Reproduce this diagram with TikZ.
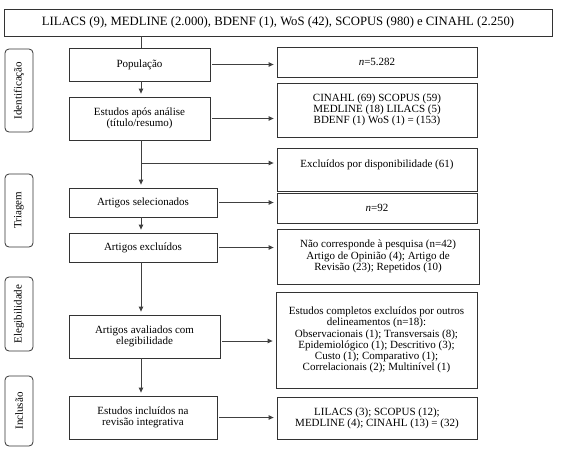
\documentclass[tikz,border=0pt]{standalone}
\usepackage{fontspec}
\setmainfont{Liberation Serif}
\usetikzlibrary{arrows.meta}
\begin{document}
\begin{tikzpicture}[x=1pt,y=-1pt,
  box/.style={draw=black!80, line width=0.8pt, inner sep=0pt, align=center, font=\fontsize{11}{11.3}\selectfont},
  side/.style={draw=black!80, line width=0.8pt, rounded corners=4pt, inner sep=0pt, rotate=90, font=\fontsize{11}{11.5}\selectfont},
  conn/.style={draw=black!75, line width=0.9pt},
  arr/.style={conn, -{Triangle[length=5pt,width=4.5pt]}, shorten >=3pt}]
\useasboundingbox (0,0) rectangle (570,450);
\node[box, minimum width=548, minimum height=27, font=\fontsize{12.7}{14}\selectfont] (top) at (278,22.5) {LILACS (9), MEDLINE (2.000), BDENF (1), WoS (42), SCOPUS (980) e CINAHL (2.250)};
\node[box, minimum width=141, minimum height=33] (pop) at (139.5,64.5) {População};
\node[box, minimum width=200, minimum height=30] (n1) at (377,62) {\textit{n}=5.282};
\node[box, minimum width=141, minimum height=43] (est) at (139.5,118.5) {Estudos após análise\\(título/resumo)};
\node[box, minimum width=200, minimum height=54] (cin) at (377,110) {CINAHL (69) SCOPUS (59)\\MEDLINE (18) LILACS (5)\\BDENF (1) WoS (1) = (153)};
\node[box, minimum width=200, minimum height=43] (exc) at (377,169.5) {Excluídos por disponibilidade (61)\\ ~};
\node[box, minimum width=148, minimum height=29] (sel) at (143,202.5) {Artigos selecionados};
\node[box, minimum width=200, minimum height=30] (n2) at (377,208) {\textit{n}=92};
\node[box, minimum width=148, minimum height=29] (aex) at (143,247.5) {Artigos excluídos};
\node[box, minimum width=202, minimum height=55] (nao) at (378,256.5) {Não corresponde à pesquisa (n=42)\\Artigo de Opinião (4); Artigo de\\Revisão (23); Repetidos (10)};
\node[box, minimum width=151, minimum height=43] (ava) at (144.5,336.5) {Artigos avaliados com\\elegibilidade};
\node[box, minimum width=201, minimum height=96] (comp) at (376.5,340) {Estudos completos excluídos por outros\\delineamentos (n=18):\\Observacionais (1); Transversais (8);\\Epidemiológico (1); Descritivo (3);\\Custo (1); Comparativo (1);\\Correlacionais (2); Multinível (1)};
\node[box, minimum width=148, minimum height=43] (inc) at (143,417.5) {Estudos incluídos na\\revisão integrativa};
\node[box, minimum width=200, minimum height=42] (lil) at (377,418) {LILACS (3); SCOPUS (12);\\MEDLINE (4); CINAHL (13) = (32)};
\node[side, minimum width=83, minimum height=28] (idl) at (19,90.5) {Identificação};
\node[side, minimum width=73, minimum height=28] (tri) at (19,210.5) {Triagem};
\node[side, minimum width=74, minimum height=28] (ele) at (19,314) {Elegibilidade};
\node[side, minimum width=70, minimum height=28] (incl) at (19,411) {Inclusão};
\coordinate (trunk) at (141,0);
\coordinate (br) at (141,163);
\draw[conn] (top.south -| trunk) -- (pop.north -| trunk);
\draw[arr] (pop.south -| trunk) -- (est.north -| trunk);
\draw[arr] (est.south -| trunk) -- (sel.north -| trunk);
\draw[arr] (br) -- (br -| exc.west);
\draw[arr] (sel.south -| trunk) -- (aex.north -| trunk);
\draw[arr] (aex.south -| trunk) -- (ava.north -| trunk);
\draw[arr] (ava.south -| trunk) -- (inc.north -| trunk);
\draw[arr, shorten <=2pt] (pop.east) -- (pop.east -| n1.west);
\draw[arr, shorten <=2pt] (est.east) -- (est.east -| cin.west);
\draw[arr, shorten <=2pt] (sel.east) -- (sel.east -| n2.west);
\draw[arr, shorten <=2pt] (aex.east) -- (aex.east -| nao.west);
\draw[arr, shorten <=2pt] ([yshift=-4.5pt]ava.east) -- ([yshift=-4.5pt]ava.east -| comp.west);
\draw[arr, shorten <=2pt] (inc.east) -- (inc.east -| lil.west);
\end{tikzpicture}
\end{document}
